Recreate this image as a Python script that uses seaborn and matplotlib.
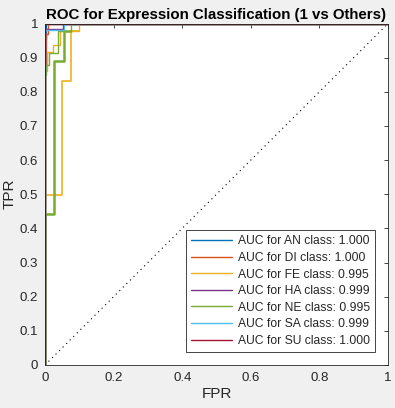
import pandas as pd
import matplotlib
matplotlib.use('Agg')
import matplotlib.pyplot as plt
import seaborn as sns

# =============================================================================
# Data
# =============================================================================

classes = ['AN', 'DI', 'FE', 'HA', 'NE', 'SA', 'SU']
auc_values = [1.000, 1.000, 0.995, 0.999, 0.995, 0.999, 1.000]
class_colors = ['#0072BD', '#D95319', '#EDB120', '#7E2F8E', '#77AC30', '#4DBEEE', '#A2142F']

fpr_an = [0, 0, 0.002, 0.002, 1]
tpr_an = [0, 0.955, 0.955, 1, 1]

fpr_di = [0, 0, 0.003, 0.003, 0.009, 0.009, 1]
tpr_di = [0, 0.87, 0.87, 0.97, 0.97, 1, 1]

fpr_fe = [0, 0, 0.005, 0.005, 0.023, 0.023, 0.043, 0.043, 0.099, 0.099, 1]
tpr_fe = [0, 0.86, 0.86, 0.917, 0.917, 0.937, 0.937, 0.979, 0.979, 1, 1]

fpr_ha = [0, 0, 0.053, 0.053, 1]
tpr_ha = [0, 0.985, 0.985, 1, 1]

fpr_ne = [0, 0, 0.004, 0.004, 0.012, 0.012, 0.038, 0.038, 0.077, 0.077, 1]
tpr_ne = [0, 0.849, 0.849, 0.878, 0.878, 0.915, 0.915, 0.979, 0.979, 1, 1]

fpr_sa = [0, 0, 0.054, 0.054, 1]
tpr_sa = [0, 0.981, 0.981, 1, 1]

fpr_su = [0, 0, 1]
tpr_su = [0, 1, 1]

# extra curves visible in the picture without legend entries
fpr_fe_extra = [0, 0, 0.0505, 0.0505, 0.077, 0.077, 0.099]
tpr_fe_extra = [0, 0.497, 0.497, 0.832, 0.832, 0.979, 0.979]

fpr_ne_extra = [0, 0, 0.027, 0.027, 0.055, 0.055, 0.077]
tpr_ne_extra = [0, 0.441, 0.441, 0.890, 0.890, 0.979, 0.979]

all_fpr = [fpr_an, fpr_di, fpr_fe, fpr_ha, fpr_ne, fpr_sa, fpr_su]
all_tpr = [tpr_an, tpr_di, tpr_fe, tpr_ha, tpr_ne, tpr_sa, tpr_su]

# =============================================================================
# Plot
# =============================================================================

sns.set_style('white')
plt.rcParams['font.family'] = ['Liberation Sans', 'DejaVu Sans']

fig = plt.figure(figsize=(3.95, 4.08), dpi=100, facecolor='#F0F0F0')
ax = fig.add_axes([0.1139, 0.1054, 0.8684, 0.837])
ax.set_facecolor('white')

# diagonal
sns.lineplot(x=[0, 1], y=[0, 1], color='black', linestyle=(0, (1, 3.5)),
             linewidth=0.8, ax=ax, legend=False)

sns.lineplot(x=fpr_fe_extra, y=tpr_fe_extra, sort=False, estimator=None,
             color='#EDB120', linewidth=1.2, ax=ax, legend=False)
sns.lineplot(x=fpr_ne_extra, y=tpr_ne_extra, sort=False, estimator=None,
             color='#77AC30', linewidth=1.8, ax=ax, legend=False)

for name, auc, col, fx, ty in zip(classes, auc_values, class_colors, all_fpr, all_tpr):
    lw = 1.6 if name == 'SU' else 1.0
    sns.lineplot(x=fx, y=ty, sort=False, estimator=None, color=col, linewidth=lw,
                 label='AUC for %s class: %.3f' % (name, auc), ax=ax)

ax.set_xlim(0, 1)
ax.set_ylim(0, 1)
ax.set_xticks([0, 0.2, 0.4, 0.6, 0.8, 1])
ax.set_xticklabels(['0', '0.2', '0.4', '0.6', '0.8', '1'])
ax.set_yticks([i / 10 for i in range(11)])
ax.set_yticklabels(['0'] + ['0.%d' % i for i in range(1, 10)] + ['1'])
ax.tick_params(direction='in', length=3, width=0.6, colors='#262626',
               labelsize=9.5, top=True, right=True, pad=5)
for s in ax.spines.values():
    s.set_color('#262626')
    s.set_linewidth(0.6)

ax.set_xlabel('FPR', fontsize=11, color='#262626', labelpad=2)
ax.set_ylabel('TPR', fontsize=11, color='#262626', labelpad=2)
ax.set_title('ROC for Expression Classification (1 vs Others)', fontsize=10.8,
             fontweight='bold', color='black', pad=3)

leg = ax.legend(loc='lower right', fontsize=8.7, frameon=True, fancybox=False,
                framealpha=1, edgecolor='#262626', handlelength=3.4,
                handletextpad=0.45, labelspacing=0.38, borderaxespad=1.05,
                borderpad=0.45)
leg.get_frame().set_linewidth(0.6)
for h in leg.get_lines():
    h.set_linewidth(1.0)

fig.savefig('out.png', dpi=100, facecolor=fig.get_facecolor())
